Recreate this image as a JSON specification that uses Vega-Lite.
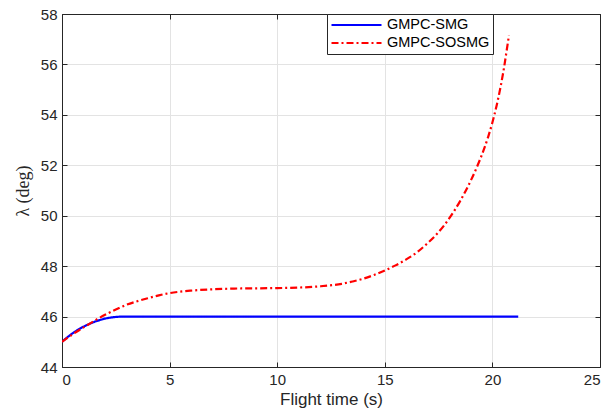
{
  "$schema": "https://vega.github.io/schema/vega-lite/v6.json",
  "autosize": {"type": "none"},
  "width": 538,
  "height": 353,
  "padding": {"left": 62, "top": 14, "right": 15, "bottom": 45},
  "background": "white",
  "config": {
    "view": {"stroke": "#262626", "strokeWidth": 1},
    "axis": {
      "domainColor": "#262626",
      "tickColor": "#262626",
      "labelColor": "#262626",
      "titleColor": "#262626",
      "labelFont": "Liberation Sans",
      "labelFontSize": 15,
      "gridColor": "#e3e3e3",
      "gridWidth": 1,
      "tickSize": -5,
      "labelPadding": 10
    }
  },
  "data": {
    "values": [
      {"t": 0, "v": 45, "s": "GMPC-SMG"},
      {"t": 0.25, "v": 45.18, "s": "GMPC-SMG"},
      {"t": 0.5, "v": 45.34, "s": "GMPC-SMG"},
      {"t": 0.75, "v": 45.48, "s": "GMPC-SMG"},
      {"t": 1, "v": 45.6, "s": "GMPC-SMG"},
      {"t": 1.25, "v": 45.7, "s": "GMPC-SMG"},
      {"t": 1.5, "v": 45.79, "s": "GMPC-SMG"},
      {"t": 1.75, "v": 45.86, "s": "GMPC-SMG"},
      {"t": 2, "v": 45.92, "s": "GMPC-SMG"},
      {"t": 2.25, "v": 45.96, "s": "GMPC-SMG"},
      {"t": 2.5, "v": 45.985, "s": "GMPC-SMG"},
      {"t": 2.75, "v": 45.998, "s": "GMPC-SMG"},
      {"t": 3, "v": 46, "s": "GMPC-SMG"},
      {"t": 21.2, "v": 46, "s": "GMPC-SMG"},
      {"t": 0, "v": 45, "s": "GMPC-SOSMG"},
      {"t": 0.5, "v": 45.3, "s": "GMPC-SOSMG"},
      {"t": 1, "v": 45.57, "s": "GMPC-SOSMG"},
      {"t": 1.5, "v": 45.83, "s": "GMPC-SOSMG"},
      {"t": 2, "v": 46.07, "s": "GMPC-SOSMG"},
      {"t": 2.5, "v": 46.28, "s": "GMPC-SOSMG"},
      {"t": 3, "v": 46.47, "s": "GMPC-SOSMG"},
      {"t": 3.5, "v": 46.61, "s": "GMPC-SOSMG"},
      {"t": 4, "v": 46.73, "s": "GMPC-SOSMG"},
      {"t": 4.5, "v": 46.84, "s": "GMPC-SOSMG"},
      {"t": 5, "v": 46.93, "s": "GMPC-SOSMG"},
      {"t": 5.5, "v": 46.99, "s": "GMPC-SOSMG"},
      {"t": 6, "v": 47.03, "s": "GMPC-SOSMG"},
      {"t": 7, "v": 47.08, "s": "GMPC-SOSMG"},
      {"t": 8, "v": 47.11, "s": "GMPC-SOSMG"},
      {"t": 9, "v": 47.12, "s": "GMPC-SOSMG"},
      {"t": 10, "v": 47.13, "s": "GMPC-SOSMG"},
      {"t": 11, "v": 47.15, "s": "GMPC-SOSMG"},
      {"t": 12, "v": 47.2, "s": "GMPC-SOSMG"},
      {"t": 13, "v": 47.3, "s": "GMPC-SOSMG"},
      {"t": 13.5, "v": 47.39, "s": "GMPC-SOSMG"},
      {"t": 14, "v": 47.5, "s": "GMPC-SOSMG"},
      {"t": 14.5, "v": 47.65, "s": "GMPC-SOSMG"},
      {"t": 15, "v": 47.83, "s": "GMPC-SOSMG"},
      {"t": 15.5, "v": 48.03, "s": "GMPC-SOSMG"},
      {"t": 16, "v": 48.27, "s": "GMPC-SOSMG"},
      {"t": 16.5, "v": 48.55, "s": "GMPC-SOSMG"},
      {"t": 17, "v": 48.92, "s": "GMPC-SOSMG"},
      {"t": 17.5, "v": 49.35, "s": "GMPC-SOSMG"},
      {"t": 18, "v": 49.9, "s": "GMPC-SOSMG"},
      {"t": 18.5, "v": 50.58, "s": "GMPC-SOSMG"},
      {"t": 19, "v": 51.4, "s": "GMPC-SOSMG"},
      {"t": 19.3, "v": 51.97, "s": "GMPC-SOSMG"},
      {"t": 19.6, "v": 52.62, "s": "GMPC-SOSMG"},
      {"t": 19.8, "v": 53.12, "s": "GMPC-SOSMG"},
      {"t": 20, "v": 53.7, "s": "GMPC-SOSMG"},
      {"t": 20.2, "v": 54.38, "s": "GMPC-SOSMG"},
      {"t": 20.4, "v": 55.2, "s": "GMPC-SOSMG"},
      {"t": 20.55, "v": 55.92, "s": "GMPC-SOSMG"},
      {"t": 20.65, "v": 56.48, "s": "GMPC-SOSMG"},
      {"t": 20.77, "v": 57.15, "s": "GMPC-SOSMG"}
    ]
  },
  "layer": [
    {
      "mark": {"type": "line", "strokeWidth": 2.2, "clip": true, "interpolate": "monotone"},
      "encoding": {
        "x": {
          "field": "t", "type": "quantitative",
          "scale": {"domain": [0, 25], "nice": false},
          "axis": {"values": [0, 5, 10, 15, 20, 25], "title": "Flight time (s)", "titleFont": "Liberation Sans", "titleFontSize": 17, "titleFontWeight": "normal", "titlePadding": 4}
        },
        "y": {
          "field": "v", "type": "quantitative",
          "scale": {"domain": [44, 58], "nice": false, "zero": false},
          "axis": {"values": [44, 46, 48, 50, 52, 54, 56, 58], "title": "λ (deg)", "titleFont": "Liberation Serif", "titleFontSize": 18, "titleFontWeight": "normal", "titlePadding": 8}
        },
        "color": {
          "field": "s", "type": "nominal",
          "scale": {"domain": ["GMPC-SMG", "GMPC-SOSMG"], "range": ["#0000ff", "#ff0000"]},
          "legend": {
            "title": null,
            "orient": "none",
            "legendX": 265,
            "legendY": 0,
            "fillColor": "white",
            "strokeColor": "#262626",
            "padding": 3,
            "rowPadding": 2,
            "clipHeight": 16,
            "symbolType": "stroke",
            "symbolSize": 2500,
            "symbolStrokeWidth": 2.2,
            "labelFont": "Liberation Sans",
            "labelFontSize": 14.5,
            "labelFontWeight": "normal",
            "labelColor": "#000000",
            "labelOffset": 4
          }
        },
        "strokeDash": {
          "field": "s", "type": "nominal",
          "scale": {"domain": ["GMPC-SMG", "GMPC-SOSMG"], "range": [[1, 0], [7, 3, 2, 3]]},
          "legend": null
        }
      }
    },
    {
      "mark": {"type": "line", "opacity": 0},
      "encoding": {
        "x": {
          "field": "t", "type": "quantitative",
          "axis": {"orient": "top", "values": [0, 5, 10, 15, 20, 25], "labels": false, "title": null, "grid": false}
        },
        "y": {
          "field": "v", "type": "quantitative",
          "axis": {"orient": "right", "values": [44, 46, 48, 50, 52, 54, 56, 58], "labels": false, "title": null, "grid": false}
        },
        "detail": {"field": "s", "type": "nominal"}
      }
    }
  ],
  "resolve": {"axis": {"x": "independent", "y": "independent"}}
}
